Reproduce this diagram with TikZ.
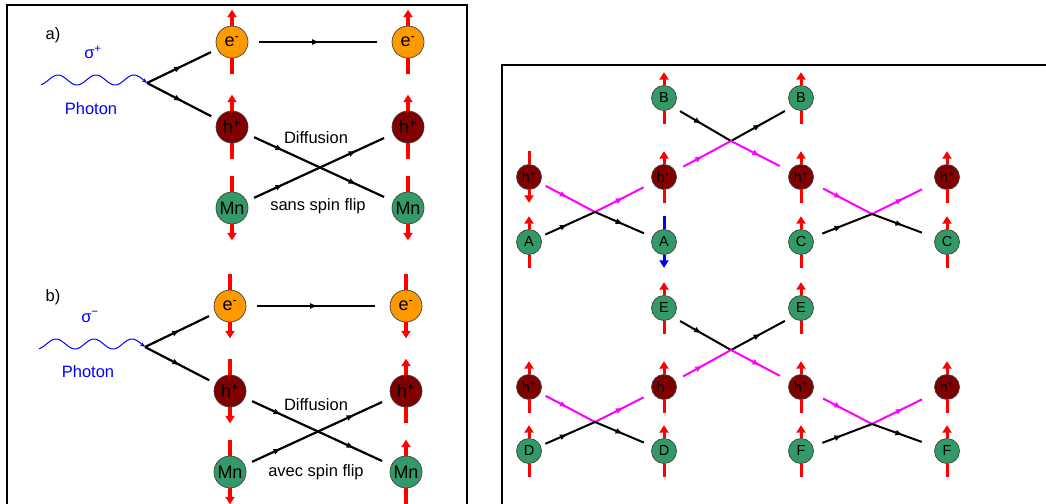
\documentclass[tikz,border=0pt]{standalone}
\usepackage{fontspec}
\setmainfont{Liberation Sans}
\usetikzlibrary{arrows.meta,decorations.markings}
\definecolor{eorange}{HTML}{FF9900}
\definecolor{hred}{HTML}{800000}
\definecolor{mngreen}{HTML}{339966}
\definecolor{pmagenta}{HTML}{FF00FF}
\definecolor{sred}{HTML}{FF0000}
\definecolor{sblue}{HTML}{0000FF}
\tikzset{
 ptcl/.style={circle,draw=black!75,line width=0.7pt,inner sep=0pt,minimum size=32pt,font=\fontsize{18}{20}\selectfont},
 rsmall/.style={minimum size=25pt,font=\fontsize{14.5}{16}\selectfont},
 epart/.style={ptcl,fill=eorange},
 hpart/.style={ptcl,fill=hred},
 mpart/.style={ptcl,fill=mngreen},
 spinline/.style={line width=3.4pt},
 thinspin/.style={line width=3pt},
 spintip/.style={-{Triangle[length=7.5pt,width=9pt]}},
 lbl/.style={font=\fontsize{16.5}{19}\selectfont},
 blbl/.style={lbl,text=sblue},
 bline/.style={black,line width=2.2pt},
 pmag/.style={pmagenta,line width=2pt},
 arrmid/.style={postaction={decorate},decoration={markings,mark=at position 0.5 with {\arrow{Latex[length=8pt,width=6pt]}}}},
 arrtwo/.style={postaction={decorate},decoration={markings,mark=at position 0.25 with {\arrow{Latex[length=8pt,width=6pt]}},mark=at position 0.75 with {\arrow{Latex[length=8pt,width=6pt]}}}},
 panelframe/.style={line width=1.8pt,draw=black}
}
\newcommand{\SpUp}[3][sred]{%
 \draw[spinline,draw=#1] (#2.south) -- ++(0pt,-#3);
 \draw[spinline,draw=#1,spintip] (#2.north) -- ++(0pt,#3);}
\newcommand{\SpDn}[3][sred]{%
 \draw[spinline,draw=#1] (#2.north) -- ++(0pt,#3);
 \draw[spinline,draw=#1,spintip] (#2.south) -- ++(0pt,-#3);}
\begin{document}
\begin{tikzpicture}[x=1pt,y=-1pt]
\useasboundingbox (0,0) rectangle (1046,503);
\fill[white] (0,0) rectangle (1046,503);
% frames
\draw[panelframe] (7,5) rectangle (467,530);
\draw[panelframe] (502,65) rectangle (1070,530);

% ---------- panel a ----------
\node[lbl] (la) at (53,35) {a)};
\node[blbl] (sa) at (93,52) {σ\textsuperscript{+}};
\node[blbl] (pa) at (91,109) {Photon};
\coordinate (va) at (147,83);
\draw[sblue,line width=1pt,-{Stealth[length=5pt,width=4pt]}] plot[domain=41:147,samples=90,smooth] (\x,{80-5*cos((\x-58)*9.4737)});
\node[epart] (e1a) at (232,42) {e\textsuperscript{-}};
\node[epart] (e2a) at (408,42) {e\textsuperscript{-}};
\node[hpart] (h1a) at (232,127) {h\textsuperscript{+}};
\node[hpart] (h2a) at (408,127) {h\textsuperscript{+}};
\node[mpart] (m1a) at (232,208) {Mn};
\node[mpart] (m2a) at (408,208) {Mn};
\SpUp{e1a}{16pt} \SpUp{e2a}{16pt}
\SpUp{h1a}{16pt} \SpUp{h2a}{16pt}
\SpDn{m1a}{16pt} \SpDn{m2a}{16pt}
\draw[bline,arrmid,shorten >=7pt] (va) -- (e1a);
\draw[bline,arrmid,shorten >=7pt] (va) -- (h1a);
\draw[bline,arrmid,shorten <=11pt,shorten >=15pt] (e1a) -- (e2a);
\draw[bline,arrtwo,shorten <=8pt,shorten >=10pt] (h1a) -- (m2a);
\draw[bline,arrtwo,shorten <=8pt,shorten >=10pt] (m1a) -- (h2a);
\node[lbl] (da) at (316,138) {Diffusion};
\node[lbl] (fa) at (318,206) {sans spin flip};

% ---------- panel b ----------
\begin{scope}[shift={(-2,264)}]
\node[lbl] (lb) at (55,33) {b)};
\node[blbl] (sb) at (92,53) {σ\textsuperscript{−}};
\node[blbl] (pb) at (90,108) {Photon};
\coordinate (vb) at (147,83);
\draw[sblue,line width=1pt,-{Stealth[length=5pt,width=4pt]}] plot[domain=41:147,samples=90,smooth] (\x,{80-5*cos((\x-58)*9.4737)});
\node[epart] (e1b) at (232,42) {e\textsuperscript{-}};
\node[epart] (e2b) at (408,42) {e\textsuperscript{-}};
\node[hpart] (h1b) at (232,127) {h\textsuperscript{+}};
\node[hpart] (h2b) at (408,127) {h\textsuperscript{+}};
\node[mpart] (m1b) at (232,208) {Mn};
\node[mpart] (m2b) at (408,208) {Mn};
\SpDn{e1b}{16pt} \SpDn{e2b}{16pt}
\SpDn{h1b}{16pt} \SpUp{h2b}{16pt}
\SpDn{m1b}{16pt} \SpUp{m2b}{16pt}
\draw[bline,arrmid,shorten >=7pt] (vb) -- (e1b);
\draw[bline,arrmid,shorten >=7pt] (vb) -- (h1b);
\draw[bline,arrmid,shorten <=11pt,shorten >=15pt] (e1b) -- (e2b);
\draw[bline,arrtwo,shorten <=8pt,shorten >=10pt] (h1b) -- (m2b);
\draw[bline,arrtwo,shorten <=8pt,shorten >=10pt] (m1b) -- (h2b);
\node[lbl] (db) at (318,141) {Diffusion};
\node[lbl] (fb) at (318,208) {avec spin flip};
\end{scope}

% ---------- right panel, top ----------
\begin{scope}[spinline/.style={thinspin},bline/.style={black,line width=2pt}]
\node[mpart,rsmall] (B1) at (664,98) {B};
\node[mpart,rsmall] (B2) at (801,98) {B};
\node[hpart,rsmall] (H1) at (529,177) {h\textsuperscript{+}};
\node[hpart,rsmall] (H2) at (664,177) {h\textsuperscript{+}};
\node[hpart,rsmall] (H3) at (801,177) {h\textsuperscript{+}};
\node[hpart,rsmall] (H4) at (947,177) {h\textsuperscript{+}};
\node[mpart,rsmall] (A1) at (529,242) {A};
\node[mpart,rsmall] (A2) at (664,242) {A};
\node[mpart,rsmall] (C1) at (801,242) {C};
\node[mpart,rsmall] (C2) at (947,242) {C};
\SpUp{B1}{13pt} \SpUp{B2}{13pt}
\SpDn{H1}{13pt} \SpUp{H2}{13pt} \SpUp{H3}{13pt} \SpUp{H4}{13pt}
\SpUp{A1}{13pt} \SpDn[sblue]{A2}{13pt} \SpUp{C1}{13pt} \SpUp{C2}{13pt}
\coordinate (X1) at (595,212);
\coordinate (X2) at (731,141);
\coordinate (X3) at (872,214);
\draw[pmag,arrmid,shorten <=6pt] (H1) -- (X1);
\draw[pmag,arrmid,shorten >=10pt] (X1) -- (H2);
\draw[bline,arrmid,shorten <=5pt] (A1) -- (X1);
\draw[bline,arrmid,shorten >=9pt] (X1) -- (A2);
\draw[bline,arrmid,shorten <=8pt] (B1.south east) -- (X2);
\draw[bline,arrmid,shorten >=8pt] (X2) -- (B2.south west);
\draw[pmag,arrmid,shorten <=9pt] (H2) -- (X2);
\draw[pmag,arrmid,shorten >=11pt] (X2) -- (H3);
\draw[pmag,arrmid,shorten <=12pt] (H3) -- (X3);
\draw[pmag,arrmid,shorten >=15pt] (X3) -- (H4);
\draw[bline,arrmid,shorten <=10pt] (C1) -- (X3);
\draw[bline,arrmid,shorten >=14pt] (X3) -- (C2);
\end{scope}

% ---------- right panel, bottom ----------
\begin{scope}[shift={(0,210)},spinline/.style={thinspin},bline/.style={black,line width=2pt}]
\node[mpart,rsmall] (E1) at (664,98) {E};
\node[mpart,rsmall] (E2) at (801,98) {E};
\node[hpart,rsmall] (H5) at (529,177) {h\textsuperscript{+}};
\node[hpart,rsmall] (H6) at (664,177) {h\textsuperscript{+}};
\node[hpart,rsmall] (H7) at (801,177) {h\textsuperscript{+}};
\node[hpart,rsmall] (H8) at (947,177) {h\textsuperscript{+}};
\node[mpart,rsmall] (D1) at (529,241) {D};
\node[mpart,rsmall] (D2) at (664,241) {D};
\node[mpart,rsmall] (F1) at (801,241) {F};
\node[mpart,rsmall] (F2) at (947,241) {F};
\SpUp{E1}{13pt} \SpUp{E2}{13pt}
\SpUp{H5}{13pt} \SpUp{H6}{13pt} \SpUp{H7}{13pt} \SpUp{H8}{13pt}
\SpUp{D1}{13pt} \SpUp{D2}{13pt} \SpUp{F1}{13pt} \SpUp{F2}{13pt}
\coordinate (X4) at (595,212);
\coordinate (X5) at (731,140);
\coordinate (X6) at (872,214);
\draw[pmag,arrmid,shorten <=6pt] (H5) -- (X4);
\draw[pmag,arrmid,shorten >=10pt] (X4) -- (H6);
\draw[bline,arrmid,shorten <=5pt] (D1) -- (X4);
\draw[bline,arrmid,shorten >=9pt] (X4) -- (D2);
\draw[bline,arrmid,shorten <=8pt] (E1.south east) -- (X5);
\draw[bline,arrmid,shorten >=8pt] (X5) -- (E2.south west);
\draw[pmag,arrmid,shorten <=9pt] (H6) -- (X5);
\draw[pmag,arrmid,shorten >=11pt] (X5) -- (H7);
\draw[pmag,arrmid,shorten <=12pt] (H7) -- (X6);
\draw[pmag,arrmid,shorten >=15pt] (X6) -- (H8);
\draw[bline,arrmid,shorten <=10pt] (F1) -- (X6);
\draw[bline,arrmid,shorten >=14pt] (X6) -- (F2);
\end{scope}
\end{tikzpicture}
\end{document}
